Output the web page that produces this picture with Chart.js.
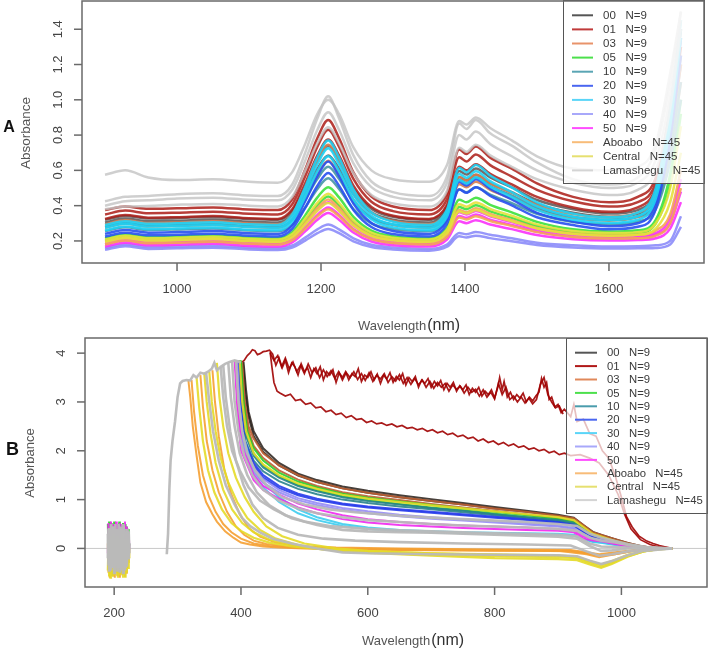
<!DOCTYPE html>
<html><head><meta charset="utf-8">
<script src="https://cdn.jsdelivr.net/npm/chart.js@4.4.0/dist/chart.umd.min.js"></script>
<style>
html,body{margin:0;padding:0;background:#fff;}
#wrap{position:relative;width:708px;height:653px;overflow:hidden;background:#fff;}
canvas{position:absolute;left:0;}
#ca{top:0;width:708px;height:336px;}
#cb{top:336px;width:708px;height:317px;}
</style></head><body>
<div id="wrap"><canvas id="ca" width="708" height="336"></canvas><canvas id="cb" width="708" height="317"></canvas></div>
<script>
// ---------------- DATA : panel A (NIR) ----------------
const wlA = [900,928,960,1000,1050,1100,1140,1160,1178,1195,1210,1225,1245,1270,1300,1350,1375,1392,1402,1415,1435,1465,1500,1550,1600,1640,1665,1685,1700];
const a00 = [
 [0.32,0.342,0.327,0.33,0.336,0.324,0.32,0.37,0.509,0.656,0.74,0.656,0.496,0.383,0.337,0.32,0.395,0.596,0.576,0.61,0.56,0.503,0.432,0.38,0.355,0.375,0.48,0.82,1.25],
 [0.305,0.327,0.312,0.315,0.321,0.309,0.305,0.35,0.476,0.609,0.685,0.609,0.465,0.362,0.32,0.305,0.375,0.562,0.544,0.575,0.528,0.476,0.41,0.36,0.337,0.355,0.45,0.78,1.2]];
const a01 = [
 [0.375,0.395,0.382,0.385,0.39,0.378,0.375,0.436,0.605,0.783,0.885,0.783,0.589,0.452,0.395,0.375,0.468,0.718,0.693,0.735,0.672,0.61,0.526,0.45,0.42,0.45,0.56,0.95,1.4],
 [0.35,0.372,0.357,0.36,0.366,0.354,0.35,0.408,0.566,0.734,0.83,0.734,0.552,0.422,0.369,0.35,0.437,0.674,0.65,0.69,0.63,0.565,0.49,0.425,0.395,0.42,0.53,0.9,1.35],
 [0.325,0.347,0.332,0.335,0.341,0.329,0.325,0.379,0.527,0.685,0.775,0.685,0.514,0.393,0.343,0.325,0.405,0.62,0.6,0.635,0.58,0.52,0.45,0.39,0.365,0.39,0.5,0.85,1.3]];
const a03 = [
 [0.295,0.317,0.302,0.305,0.311,0.299,0.295,0.349,0.497,0.655,0.745,0.655,0.484,0.362,0.313,0.295,0.368,0.562,0.543,0.575,0.526,0.472,0.404,0.352,0.336,0.36,0.46,0.8,1.2],
 [0.275,0.297,0.282,0.285,0.291,0.279,0.275,0.321,0.446,0.579,0.655,0.579,0.435,0.332,0.29,0.275,0.343,0.522,0.505,0.535,0.49,0.44,0.378,0.33,0.315,0.335,0.4,0.7,1.1]];
const a05 = [
 [0.215,0.237,0.222,0.225,0.231,0.219,0.215,0.25,0.345,0.447,0.505,0.447,0.337,0.259,0.227,0.215,0.275,0.434,0.419,0.445,0.405,0.362,0.308,0.266,0.253,0.26,0.32,0.58,1.0],
 [0.202,0.224,0.209,0.212,0.218,0.206,0.202,0.232,0.315,0.402,0.452,0.402,0.307,0.24,0.212,0.202,0.255,0.393,0.38,0.402,0.368,0.331,0.285,0.25,0.238,0.245,0.3,0.52,0.92]];
const a10 = [
 [0.28,0.302,0.287,0.29,0.296,0.284,0.28,0.321,0.433,0.552,0.62,0.552,0.423,0.331,0.294,0.28,0.352,0.547,0.528,0.56,0.511,0.457,0.389,0.337,0.321,0.34,0.42,0.72,1.1],
 [0.255,0.277,0.262,0.265,0.271,0.259,0.255,0.291,0.39,0.495,0.555,0.495,0.381,0.3,0.267,0.255,0.32,0.493,0.476,0.505,0.462,0.414,0.354,0.308,0.294,0.31,0.38,0.65,1.0]];
const a20 = [
 [0.24,0.262,0.247,0.25,0.256,0.244,0.24,0.289,0.425,0.568,0.65,0.568,0.412,0.302,0.256,0.24,0.32,0.535,0.514,0.55,0.496,0.435,0.359,0.31,0.283,0.3,0.42,0.85,1.35],
 [0.225,0.247,0.232,0.235,0.241,0.229,0.225,0.268,0.387,0.513,0.585,0.513,0.376,0.279,0.239,0.225,0.297,0.492,0.473,0.505,0.456,0.402,0.334,0.29,0.266,0.28,0.38,0.78,1.25]];
const a30 = [
 [0.29,0.312,0.297,0.3,0.306,0.294,0.29,0.348,0.506,0.674,0.77,0.674,0.492,0.362,0.309,0.29,0.378,0.614,0.59,0.63,0.571,0.503,0.419,0.355,0.335,0.36,0.5,0.95,1.45],
 [0.275,0.297,0.282,0.285,0.291,0.279,0.275,0.329,0.478,0.635,0.725,0.635,0.464,0.343,0.293,0.275,0.358,0.58,0.558,0.595,0.539,0.476,0.397,0.337,0.319,0.34,0.47,0.9,1.4],
 [0.26,0.282,0.267,0.27,0.276,0.264,0.26,0.31,0.449,0.596,0.68,0.596,0.436,0.323,0.277,0.26,0.338,0.546,0.525,0.56,0.508,0.449,0.376,0.32,0.302,0.32,0.44,0.85,1.35]];
const a40 = [
 [0.16,0.18,0.165,0.168,0.172,0.162,0.158,0.174,0.219,0.266,0.293,0.266,0.215,0.178,0.163,0.155,0.18,0.245,0.238,0.25,0.235,0.215,0.19,0.175,0.168,0.17,0.175,0.2,0.34],
 [0.15,0.17,0.155,0.158,0.162,0.152,0.148,0.162,0.202,0.244,0.268,0.244,0.198,0.166,0.152,0.145,0.167,0.226,0.22,0.23,0.216,0.198,0.177,0.163,0.157,0.158,0.16,0.18,0.28]];
const a50 = [
 [0.19,0.212,0.197,0.2,0.206,0.194,0.19,0.218,0.294,0.374,0.42,0.374,0.287,0.225,0.199,0.19,0.237,0.362,0.35,0.37,0.339,0.307,0.266,0.235,0.225,0.23,0.245,0.33,0.55],
 [0.18,0.202,0.187,0.19,0.196,0.184,0.18,0.205,0.275,0.348,0.39,0.348,0.268,0.212,0.188,0.18,0.225,0.342,0.331,0.35,0.321,0.291,0.253,0.224,0.215,0.22,0.235,0.3,0.48],
 [0.168,0.19,0.175,0.178,0.184,0.172,0.168,0.191,0.254,0.32,0.358,0.32,0.248,0.197,0.176,0.168,0.208,0.311,0.301,0.318,0.293,0.267,0.234,0.21,0.202,0.205,0.215,0.27,0.42]];
const aAboabo = [
 [0.195,0.217,0.202,0.205,0.211,0.199,0.195,0.224,0.303,0.387,0.435,0.387,0.296,0.231,0.205,0.195,0.245,0.376,0.363,0.385,0.353,0.318,0.274,0.242,0.231,0.235,0.26,0.35,0.6],
 [0.18,0.202,0.187,0.19,0.196,0.184,0.18,0.204,0.27,0.34,0.38,0.34,0.264,0.21,0.188,0.18,0.223,0.333,0.322,0.34,0.313,0.285,0.25,0.223,0.214,0.215,0.23,0.3,0.5]];
const aCentral = [
 [0.208,0.23,0.215,0.218,0.224,0.212,0.208,0.239,0.325,0.416,0.468,0.416,0.317,0.247,0.218,0.208,0.263,0.408,0.394,0.418,0.382,0.343,0.294,0.257,0.245,0.25,0.3,0.5,0.85],
 [0.195,0.217,0.202,0.205,0.211,0.199,0.195,0.221,0.294,0.371,0.415,0.371,0.287,0.228,0.204,0.195,0.243,0.367,0.355,0.375,0.344,0.312,0.271,0.24,0.23,0.235,0.27,0.42,0.7]];
const aLamashegu = [
 [0.575,0.60,0.56,0.545,0.55,0.535,0.53,0.59,0.75,0.92,1.0,0.92,0.73,0.60,0.55,0.535,0.63,0.88,0.86,0.9,0.84,0.77,0.68,0.61,0.6,0.62,0.75,1.15,1.5],
 [0.425,0.45,0.455,0.465,0.47,0.458,0.455,0.52,0.70,0.895,1.02,0.895,0.685,0.537,0.477,0.455,0.565,0.865,0.835,0.885,0.81,0.74,0.645,0.55,0.52,0.56,0.72,1.1,1.5],
 [0.40,0.425,0.43,0.44,0.445,0.433,0.43,0.49,0.655,0.83,0.93,0.83,0.64,0.505,0.45,0.43,0.53,0.80,0.775,0.82,0.75,0.68,0.6,0.53,0.5,0.53,0.66,1.02,1.45],
 [0.38,0.395,0.398,0.405,0.41,0.4,0.395,0.45,0.6,0.755,0.845,0.755,0.584,0.46,0.413,0.395,0.485,0.728,0.705,0.745,0.685,0.62,0.55,0.49,0.46,0.49,0.6,0.95,1.4]];

// ---------------- DATA : panel B (UV-Vis) ----------------
const bNoiseX = [190,191,192,193,194,195,196,197,198,199,200,201,202,203,204,205,206,207,208,209,210,211,212,213,214,215,216,217,218,219,220,221,222,223,224];
const bNoise05 = [0.5,-0.2,0.55,-0.3,0.45,-0.1,0.52,-0.25,0.4,-0.2,0.55,-0.3,0.48,-0.15,0.5,-0.25,0.42,-0.2,0.55,-0.3,0.5,-0.1,0.45,-0.25,0.52,-0.2,0.4,-0.3,0.5,-0.15,0.45,-0.2,0.4,-0.1,0.1];
const bNoise50 = [-0.1,0.52,-0.3,0.45,-0.2,0.55,-0.25,0.4,-0.15,0.5,-0.3,0.45,-0.2,0.55,-0.1,0.48,-0.25,0.4,-0.2,0.52,-0.3,0.45,-0.15,0.5,-0.2,0.42,-0.25,0.55,-0.1,0.45,-0.2,0.4,-0.15,0.3,0];
const bNoiseAboabo = [0.1,-0.5,0.2,-0.6,0.15,-0.45,0.1,-0.55,0.2,-0.5,0.05,-0.6,0.15,-0.48,0.1,-0.55,0.2,-0.45,0.1,-0.6,0.15,-0.5,0.05,-0.55,0.1,-0.45,0.2,-0.58,0.1,-0.5,0.15,-0.4,0.05,-0.3,0];
const bNoiseCentral = [-0.45,0.2,-0.55,0.1,-0.6,0.25,-0.5,0.15,-0.58,0.3,-0.45,0.2,-0.55,0.1,-0.5,0.25,-0.6,0.15,-0.48,0.2,-0.55,0.1,-0.5,0.3,-0.58,0.2,-0.45,0.15,-0.6,0.1,-0.5,0.2,-0.4,0.1,-0.2];
const bNoiseLama = [
 [0.3,-0.35,0.42,-0.2,0.38,-0.45,0.25,-0.3,0.45,-0.4,0.3,-0.25,0.5,-0.35,0.2,-0.45,0.4,-0.3,0.35,-0.5,0.45,-0.2,0.3,-0.4,0.5,-0.3,0.25,-0.45,0.4,-0.35,0.3,-0.2,0.35,-0.15,0.1],
 [-0.2,0.4,-0.45,0.3,-0.3,0.5,-0.4,0.35,-0.25,0.45,-0.5,0.3,-0.35,0.4,-0.3,0.25,-0.4,0.5,-0.2,0.35,-0.45,0.4,-0.3,0.3,-0.5,0.45,-0.25,0.35,-0.4,0.3,-0.3,0.4,-0.2,0.3,-0.1]];

const bTailX = [420,435,460,490,520,560,600,650,700,750,800,850,900,925,940,955,970,990,1010,1030,1050,1080];
const bHead00 = [[[404,3.82],[408,3.25],[412,2.8]],[[403,3.8],[407,3.15],[412,2.7]]];
const bTail00 = [[2.4,2.05,1.75,1.53,1.4,1.27,1.18,1.09,1.01,0.93,0.85,0.77,0.69,0.63,0.48,0.34,0.27,0.19,0.11,0.05,0.01,0],
                 [2.3,1.98,1.7,1.49,1.36,1.23,1.14,1.05,0.97,0.9,0.82,0.75,0.67,0.61,0.46,0.32,0.26,0.18,0.1,0.04,0.01,0]];
const bHead03 = [[[402,3.8],[406,3.0],[412,2.5]],[[401,3.82],[405,3.0],[411,2.45]]];
const bTail03 = [[2.25,1.95,1.7,1.5,1.36,1.23,1.14,1.05,0.97,0.9,0.82,0.75,0.67,0.62,0.48,0.33,0.27,0.19,0.11,0.05,0.01,0],
                 [2.1,1.85,1.6,1.41,1.28,1.15,1.07,0.99,0.91,0.84,0.77,0.7,0.62,0.56,0.42,0.29,0.23,0.15,0.08,0.03,0.01,0]];
const bHead05 = [[[400,3.85],[404,3.0],[410,2.4]],[[399,3.85],[403,2.95],[409,2.3]]];
const bTail05 = [[2.05,1.8,1.55,1.37,1.25,1.12,1.04,0.96,0.89,0.82,0.75,0.68,0.61,0.55,0.4,0.27,0.22,0.15,0.08,0.03,0.01,0],
                 [1.95,1.7,1.48,1.3,1.19,1.07,0.99,0.91,0.84,0.78,0.71,0.64,0.57,0.5,0.36,0.24,0.2,0.13,0.07,0.03,0.01,0]];
const bHead10 = [[[398,3.85],[402,3.0],[408,2.3]],[[397,3.84],[401,2.95],[407,2.2]]];
const bTail10 = [[1.9,1.66,1.45,1.28,1.17,1.05,0.97,0.9,0.83,0.77,0.7,0.64,0.58,0.52,0.38,0.26,0.21,0.14,0.08,0.03,0.01,0],
                 [1.8,1.58,1.38,1.22,1.11,1.0,0.93,0.86,0.8,0.74,0.68,0.62,0.55,0.5,0.36,0.25,0.2,0.13,0.07,0.03,0.01,0]];
const bHead20 = [[[396,3.85],[400,2.9],[406,2.2]],[[395,3.85],[399,2.85],[405,2.15]]];
const bTail20 = [[1.75,1.5,1.28,1.12,1.02,0.92,0.86,0.8,0.75,0.7,0.65,0.6,0.54,0.48,0.35,0.23,0.19,0.13,0.07,0.03,0.01,0],
                 [1.7,1.45,1.24,1.09,0.99,0.9,0.84,0.78,0.73,0.68,0.63,0.58,0.52,0.46,0.33,0.22,0.18,0.12,0.06,0.02,0.01,0]];
const bHead30 = [[[392,3.85],[396,2.9],[402,2.2]],[[393,3.85],[397,2.95],[403,2.3]]];
const bTail30 = [[1.5,1.25,0.95,0.72,0.58,0.46,0.4,0.36,0.33,0.31,0.3,0.29,0.28,0.26,0.19,0.13,0.11,0.07,0.04,0.02,0.01,0],
                 [1.6,1.35,1.05,0.8,0.64,0.5,0.43,0.38,0.35,0.33,0.32,0.31,0.3,0.28,0.2,0.14,0.12,0.08,0.04,0.02,0.01,0]];
const bHead40 = [[[394,3.85],[398,2.9],[404,2.1]],[[393,3.84],[397,2.85],[403,2.05]]];
const bTail40 = [[1.65,1.42,1.2,1.03,0.93,0.83,0.76,0.69,0.64,0.6,0.56,0.52,0.47,0.42,0.3,0.2,0.17,0.11,0.06,0.02,0.01,0],
                 [1.55,1.35,1.15,0.99,0.89,0.79,0.72,0.66,0.61,0.57,0.53,0.49,0.45,0.4,0.28,0.19,0.16,0.1,0.05,0.02,0.01,0]];
const bHead50 = [[[390,3.85],[394,2.9],[400,2.0]],[[391,3.85],[395,2.95],[401,2.1]]];
const bTail50 = [[1.4,1.2,1.02,0.84,0.72,0.6,0.53,0.48,0.45,0.42,0.4,0.38,0.36,0.33,0.2,0.16,0.14,0.09,0.05,0.02,0.01,0],
                 [1.5,1.28,1.1,0.92,0.8,0.68,0.6,0.54,0.5,0.47,0.45,0.43,0.4,0.37,0.24,0.18,0.15,0.1,0.05,0.02,0.01,0]];
const bHeadCentralHigh = [[398,3.85],[402,3.0],[408,2.4]];
const bTailCentralHigh = [1.95,1.72,1.5,1.33,1.22,1.1,1.02,0.95,0.88,0.82,0.76,0.7,0.64,0.58,0.44,0.3,0.24,0.15,0.08,0.03,0.01,0];

const b01 = [
 [[400,3.8],[405,3.85],[410,3.95],[414,4.0],[418,4.07],[422,4.05],[426,3.97],[430,3.99],[435,4.03],[440,4.04],[445,4.06],[450,3.98],[455,3.75],[460,3.9],[465,3.7],[470,3.85],[475,3.6],[480,3.8],[485,3.72],[490,3.55],[495,3.78],[500,3.62],[505,3.7],[510,3.5],[515,3.68],[520,3.58],[525,3.72],[530,3.45],[535,3.62],[540,3.55],[545,3.66],[550,3.4],[555,3.6],[560,3.5],[565,3.62],[570,3.45],[575,3.58],[580,3.52],[585,3.68],[590,3.42],[595,3.55],[600,3.5],[605,3.62],[610,3.45],[615,3.57],[620,3.38],[625,3.55],[630,3.47],[635,3.6],[640,3.4],[645,3.52],[650,3.45],[655,3.58],[660,3.35],[665,3.5],[670,3.42],[675,3.52],[680,3.3],[685,3.45],[690,3.38],[695,3.48],[700,3.3],[705,3.42],[710,3.33],[715,3.44],[720,3.25],[725,3.38],[730,3.3],[735,3.4],[740,3.22],[745,3.33],[750,3.25],[755,3.35],[760,3.15],[765,3.28],[770,3.2],[775,3.3],[780,3.12],[785,3.22],[790,3.15],[795,3.25],[800,3.08],[805,3.3],[808,3.5],[812,3.25],[815,3.42],[820,3.1],[825,3.2],[830,3.05],[835,3.15],[840,3.08],[845,3.18],[850,3.0],[855,3.1],[860,3.02],[865,3.12],[870,3.2],[874,3.48],[878,3.3],[882,3.4],[886,3.05],[890,3.1],[895,2.9],[900,2.95],[905,2.78],[910,2.85],[920,2.7],[925,2.95],[930,2.6],[940,2.65],[950,2.35],[960,2.3],[970,2.0],[980,1.85],[990,1.5],[1000,1.05],[1008,0.65],[1017,0.44],[1028,0.25],[1040,0.15],[1050,0.1],[1060,0.06],[1070,0.03],[1080,0]],
 [[446,4.0],[452,3.85],[458,3.95],[464,3.72],[470,3.9],[476,3.68],[482,3.82],[488,3.62],[494,3.75],[500,3.58],[506,3.78],[512,3.6],[518,3.7],[524,3.5],[530,3.66],[536,3.52],[542,3.64],[548,3.48],[554,3.62],[560,3.45],[566,3.6],[572,3.5],[578,3.62],[584,3.46],[590,3.58],[596,3.44],[602,3.6],[608,3.42],[614,3.55],[620,3.47],[626,3.58],[632,3.4],[638,3.52],[644,3.43],[650,3.56],[656,3.38],[662,3.5],[668,3.36],[674,3.48],[680,3.35],[686,3.45],[692,3.3],[698,3.42],[704,3.28],[710,3.4],[716,3.3],[722,3.38],[728,3.22],[734,3.35],[740,3.26],[746,3.32],[752,3.18],[758,3.3],[764,3.2],[770,3.26],[776,3.12],[782,3.25],[788,3.1],[794,3.2],[800,3.06],[806,3.38],[812,3.15],[818,3.3],[824,3.05],[830,3.12],[836,3.0],[842,3.1],[848,2.98],[854,3.08],[860,2.96],[866,3.05],[872,3.35],[878,3.5],[884,3.15],[890,3.0],[896,2.88],[902,2.92],[908,2.75]],
 [[446,4.02],[449,3.7],[452,3.4],[457,3.22],[462,3.18],[470,3.12],[478,3.16],[486,3.03],[494,3.05],[502,2.95],[510,2.98],[518,2.88],[526,2.9],[534,2.8],[542,2.83],[550,2.74],[558,2.77],[566,2.68],[574,2.72],[582,2.64],[590,2.66],[598,2.58],[606,2.61],[614,2.55],[622,2.57],[630,2.52],[638,2.55],[646,2.49],[654,2.52],[662,2.46],[670,2.48],[678,2.43],[686,2.46],[694,2.4],[702,2.43],[710,2.37],[718,2.4],[726,2.33],[734,2.36],[742,2.29],[750,2.32],[758,2.25],[766,2.28],[774,2.2],[782,2.24],[790,2.17],[798,2.2],[806,2.13],[814,2.17],[822,2.1],[830,2.14],[838,2.07],[846,2.1],[854,2.03],[862,2.06],[870,2.0],[878,2.03],[886,1.96],[894,1.99],[902,1.92],[910,1.95],[920,1.9],[935,1.92],[950,1.85],[965,1.75],[980,1.5],[995,1.1],[1005,0.7],[1015,0.4],[1030,0.18],[1045,0.08],[1060,0.03],[1080,0]]];

const bAboabo = [
 [[317,3.45],[320,3.1],[324,2.5],[330,1.9],[336,1.35],[345,0.95],[355,0.7],[362,0.55],[375,0.35],[388,0.22],[400,0.12],[414,0.08],[435,0.04],[460,0.02],[500,0],[560,-0.02],[650,-0.03],[750,-0.04],[850,-0.05],[920,-0.06],[945,-0.1],[965,-0.15],[990,-0.12],[1020,-0.05],[1050,-0.01],[1080,0]],
 [[322,3.45],[326,2.8],[332,2.1],[340,1.5],[350,1.05],[360,0.75],[372,0.5],[385,0.33],[400,0.2],[420,0.1],[445,0.05],[480,0.02],[540,0],[650,-0.02],[800,-0.04],[920,-0.05],[945,-0.1],[965,-0.14],[990,-0.1],[1020,-0.04],[1050,-0.01],[1080,0]],
 [[336,3.55],[340,2.9],[346,2.2],[355,1.6],[365,1.15],[378,0.75],[392,0.45],[405,0.28],[420,0.16],[440,0.09],[470,0.04],[520,0.01],[600,-0.01],[750,-0.03],[900,-0.05],[945,-0.12],[965,-0.18],[990,-0.12],[1020,-0.05],[1050,-0.01],[1080,0]],
 [[355,3.65],[359,3.0],[365,2.3],[374,1.6],[385,1.1],[398,0.7],[412,0.42],[430,0.24],[455,0.12],[490,0.05],[550,0.02],[650,0],[800,-0.02],[920,-0.03],[945,-0.08],[965,-0.12],[990,-0.08],[1020,-0.03],[1080,0]]];
const bCentral = [
 [[330,3.5],[334,2.9],[340,2.2],[348,1.6],[358,1.15],[370,0.8],[385,0.52],[400,0.36],[420,0.22],[445,0.12],[480,0.04],[530,-0.02],[600,-0.06],[700,-0.1],[800,-0.12],[900,-0.14],[930,-0.17],[950,-0.26],[968,-0.33],[985,-0.28],[1010,-0.15],[1035,-0.06],[1060,-0.01],[1080,0]],
 [[342,3.6],[346,3.0],[352,2.35],[360,1.75],[372,1.2],[386,0.8],[402,0.52],[420,0.33],[445,0.18],[480,0.07],[530,-0.02],[600,-0.08],[700,-0.13],[800,-0.16],[900,-0.18],[930,-0.2],[950,-0.3],[968,-0.37],[985,-0.3],[1010,-0.16],[1035,-0.06],[1060,-0.01],[1080,0]],
 [[350,3.62],[354,3.0],[360,2.4],[368,1.85],[380,1.35],[394,0.95],[410,0.62],[430,0.38],[455,0.2],[490,0.07],[540,-0.03],[600,-0.09],[700,-0.15],[800,-0.2],[900,-0.22],[930,-0.24],[950,-0.33],[968,-0.4],[985,-0.32],[1010,-0.17],[1035,-0.06],[1060,-0.01],[1080,0]],
 [[362,3.8],[366,3.1],[372,2.5],[380,1.95],[392,1.45],[406,1.05],[420,0.75],[440,0.45],[465,0.25],[500,0.1],[550,0.0],[600,-0.05],[700,-0.1],[800,-0.13],[900,-0.15],[930,-0.18],[950,-0.27],[968,-0.33],[985,-0.26],[1010,-0.13],[1035,-0.05],[1080,0]]];
const bLamashegu = [
 [[283,-0.12],[285,0.3],[287,1.2],[289,1.8],[292,2.2],[296,2.6],[300,3.1],[304,3.38],[308,3.43],[314,3.45],[320,3.44],[325,3.55],[330,3.5],[336,3.6],[342,3.58],[348,3.62],[354,3.68],[358,3.8],[362,3.65],[368,3.72],[375,3.78],[382,3.82],[390,3.85],[396,3.83],[400,3.8]],
 [[345,3.6],[350,3.0],[356,2.4],[365,1.8],[376,1.3],[390,0.9],[402,0.62],[415,0.45],[430,0.33],[450,0.2],[480,0.1],[520,0.0],[560,-0.08],[600,-0.1],[700,-0.12],[800,-0.13],[900,-0.14],[930,-0.16],[950,-0.25],[968,-0.32],[985,-0.26],[1010,-0.14],[1035,-0.05],[1080,0]],
 [[368,3.72],[372,3.1],[378,2.5],[386,2.0],[398,1.6],[412,1.25],[430,0.98],[452,0.8],[480,0.62],[520,0.48],[560,0.38],[600,0.35],[650,0.33],[700,0.32],[750,0.3],[800,0.28],[850,0.26],[900,0.24],[930,0.2],[950,0.05],[968,-0.05],[985,-0.04],[1010,0],[1040,0.01],[1080,0]],
 [[372,3.75],[376,3.1],[383,2.4],[392,1.8],[404,1.3],[418,0.9],[435,0.62],[458,0.42],[490,0.28],[530,0.2],[580,0.16],[650,0.13],[750,0.1],[850,0.08],[920,0.06],[945,-0.06],[965,-0.15],[985,-0.12],[1010,-0.06],[1040,-0.02],[1080,0]],
 [[380,3.8],[384,3.1],[390,2.5],[398,1.95],[410,1.5],[425,1.15],[445,0.88],[470,0.68],[500,0.55],[540,0.46],[600,0.4],[650,0.37],[700,0.35],[750,0.33],[800,0.31],[850,0.3],[900,0.28],[930,0.25],[950,0.1],[968,0.04],[990,0.03],[1010,0.02],[1040,0.01],[1080,0]],
 [[386,3.83],[390,3.0],[396,2.4],[405,1.9],[418,1.5],[435,1.2],[460,0.98],[490,0.82],[520,0.72],[560,0.64],[600,0.58],[650,0.54],[700,0.5],[750,0.47],[800,0.45],[850,0.43],[900,0.4],[930,0.36],[950,0.22],[968,0.16],[990,0.12],[1010,0.07],[1040,0.02],[1080,0]],
 [[392,3.85],[396,3.0],[402,2.4],[410,1.95],[422,1.6],[440,1.3],[465,1.05],[500,0.9],[540,0.8],[580,0.74],[620,0.7],[660,0.66],[700,0.63],[750,0.6],[800,0.57],[850,0.54],[900,0.5],[930,0.46],[950,0.3],[968,0.22],[990,0.15],[1010,0.09],[1040,0.03],[1080,0]]];

// ---------------- labels / ticks ----------------
const groups = ['00','01','03','05','10','20','30','40','50','Aboabo','Central','Lamashegu'];
const counts = ['N=9','N=9','N=9','N=9','N=9','N=9','N=9','N=9','N=9','N=45','N=45','N=45'];
const xTicksA = [1000,1200,1400,1600];
const yTicksA = [0.2,0.4,0.6,0.8,1.0,1.2,1.4];
const xTicksB = [200,400,600,800,1000];
const yTicksB = [0,1,2,3,4];

// ---------------- styles ----------------
const colA = {'00':'rgba(70,60,60,0.75)','01':'rgba(172,28,22,0.85)','03':'rgba(215,125,80,0.9)','05':'rgba(60,225,60,0.9)','10':'rgba(70,150,165,0.9)','20':'rgba(40,80,240,0.9)','30':'rgba(30,210,245,0.9)','40':'rgba(140,140,250,0.9)','50':'rgba(250,50,250,0.9)','Aboabo':'rgba(245,165,85,0.9)','Central':'rgba(230,225,60,0.9)','Lamashegu':'rgba(195,195,195,0.8)'};
const colB = {'00':'rgba(40,30,25,0.85)','01':'rgba(160,0,0,0.9)','03':'rgba(190,95,50,0.9)','05':'rgba(40,205,40,0.9)','10':'rgba(40,130,140,0.9)','20':'rgba(40,60,235,0.9)','30':'rgba(60,205,240,0.9)','40':'rgba(150,140,245,0.9)','50':'rgba(240,40,240,0.9)','Aboabo':'rgba(245,160,50,0.9)','Central':'rgba(228,218,40,0.9)','Lamashegu':'rgba(185,185,185,0.95)'};
const legColA = ['#555555','#C03A3A','#E8936A','#4CE04C','#5AA5B4','#4A66F0','#5AD5F8','#A8A8FA','#FF4CFF','#F8BC78','#E6E070','#D4D4D4'];
const legColB = ['#555555','#B01818','#E0885A','#4CE04C','#4A9CAC','#4A66F0','#5AD5F8','#A8A8FA','#FF4CFF','#F8BC78','#E6E070','#D4D4D4'];
const FONT = '"Liberation Sans", Arial, sans-serif';

// ---------------- datasets ----------------
// Chart.js paints dataset 0 last, so the list is reversed to keep the R drawing order (Lamashegu on top).
const aSets = {'00':a00,'01':a01,'03':a03,'05':a05,'10':a10,'20':a20,'30':a30,'40':a40,'50':a50,'Aboabo':aAboabo,'Central':aCentral,'Lamashegu':aLamashegu};
const dsA = [];
groups.forEach(g => aSets[g].forEach(vals => dsA.push({
  label:g, data: wlA.map((x,i)=>({x:x,y:vals[i]})), borderColor: colA[g], borderWidth:2.5,
  pointRadius:0, cubicInterpolationMode:'monotone', fill:false })));
dsA.reverse();

function pairs(p){ return p.map(q=>({x:q[0],y:q[1]})); }
function headTail(h,t){ return pairs(h).concat(bTailX.map((x,i)=>({x:x,y:t[i]}))); }
function noise(v){ return bNoiseX.map((x,i)=>({x:x,y:v[i]})); }
const bLines = {
  '00': bHead00.map((h,i)=>headTail(h,bTail00[i])),
  '01': b01.map(pairs),
  '03': bHead03.map((h,i)=>headTail(h,bTail03[i])),
  '05': bHead05.map((h,i)=>headTail(h,bTail05[i])).concat([noise(bNoise05)]),
  '10': bHead10.map((h,i)=>headTail(h,bTail10[i])),
  '20': bHead20.map((h,i)=>headTail(h,bTail20[i])),
  '30': bHead30.map((h,i)=>headTail(h,bTail30[i])),
  '40': bHead40.map((h,i)=>headTail(h,bTail40[i])),
  '50': bHead50.map((h,i)=>headTail(h,bTail50[i])).concat([noise(bNoise50)]),
  'Aboabo': bAboabo.map(pairs).concat([noise(bNoiseAboabo)]),
  'Central': bCentral.map(pairs).concat([headTail(bHeadCentralHigh,bTailCentralHigh), noise(bNoiseCentral)]),
  'Lamashegu': bLamashegu.map(pairs).concat(bNoiseLama.map(noise))
};
const widthB = {'01':1.7,'Lamashegu':2.6,'Aboabo':2.0,'Central':2.2};
const dsB = [];
groups.forEach(g => bLines[g].forEach(d => dsB.push({
  label:g, data:d, borderColor: colB[g], borderWidth: widthB[g] || 2.0,
  pointRadius:0, tension:0, fill:false })));
dsB.reverse();

// ---------------- decoration plugin ----------------
function deco(c){
  return {
    id:'deco',
    beforeDatasetsDraw(chart){
      if(!c.zero) return;
      const {ctx, chartArea:a, scales:{y}} = chart;
      const py = y.getPixelForValue(0);
      ctx.save(); ctx.strokeStyle='#c8c8c8'; ctx.lineWidth=1;
      ctx.beginPath(); ctx.moveTo(a.left,py); ctx.lineTo(a.right,py); ctx.stroke(); ctx.restore();
    },
    afterDatasetsDraw(chart){
      const {ctx, chartArea:a, scales:{x,y}} = chart;
      ctx.save();
      // legend
      const L = c.leg;
      ctx.fillStyle = 'rgba(255,255,255,'+L.alpha+')';
      ctx.fillRect(L.x, L.y, L.w, L.h);
      ctx.strokeStyle = '#555'; ctx.lineWidth = 1;
      ctx.strokeRect(L.x+0.5, L.y+0.5, L.w, L.h);
      ctx.font = L.fs+'px '+FONT; ctx.textBaseline='middle'; ctx.textAlign='left';
      groups.forEach((g,i)=>{
        const yy = L.row0 + i*L.step;
        ctx.strokeStyle = c.legCol[i]; ctx.lineWidth = 2;
        ctx.beginPath(); ctx.moveTo(L.lx0,yy); ctx.lineTo(L.lx1,yy); ctx.stroke();
        ctx.fillStyle = '#3a3a3a';
        ctx.fillText(g+'   '+counts[i], L.tx, yy+0.5);
      });
      // plot box
      ctx.strokeStyle = '#6a6a6a'; ctx.lineWidth = 1.5;
      ctx.strokeRect(a.left, a.top, a.right-a.left, a.bottom-a.top);
      // x ticks
      ctx.fillStyle = '#444'; ctx.font = '13px '+FONT; ctx.textAlign='center'; ctx.textBaseline='middle';
      c.xt.forEach(v=>{
        const px = x.getPixelForValue(v);
        ctx.beginPath(); ctx.moveTo(px,a.bottom); ctx.lineTo(px,a.bottom+8); ctx.stroke();
        ctx.fillText(String(v), px, c.xLabY);
      });
      // y ticks
      c.yt.forEach(v=>{
        const py = y.getPixelForValue(v);
        ctx.beginPath(); ctx.moveTo(a.left-8,py); ctx.lineTo(a.left,py); ctx.stroke();
        ctx.save(); ctx.translate(c.yLabX, py); ctx.rotate(-Math.PI/2);
        ctx.fillText(c.yFmt(v), 0, 0); ctx.restore();
      });
      // y title
      ctx.save(); ctx.translate(c.absX, c.absY); ctx.rotate(-Math.PI/2);
      ctx.font = c.absSize+'px '+FONT; ctx.fillStyle='#555'; ctx.fillText('Absorbance',0,0); ctx.restore();
      // x title
      ctx.textAlign='left'; ctx.textBaseline='alphabetic';
      ctx.font = '13px '+FONT; ctx.fillStyle='#555';
      ctx.fillText('Wavelength', c.wlX, c.wlY);
      const w = ctx.measureText('Wavelength').width;
      ctx.font = '16px '+FONT; ctx.fillStyle='#333';
      ctx.fillText('(nm)', c.wlX+w+1, c.wlY);
      // panel letter
      ctx.font = 'bold '+c.letSize+'px '+FONT; ctx.fillStyle='#111'; ctx.textAlign='center'; ctx.textBaseline='middle';
      ctx.fillText(c.letter, c.letX, c.letY);
      ctx.restore();
    }
  };
}

function makeChart(id, datasets, pad, xr, yr, d){
  return new Chart(document.getElementById(id), {
    type:'line',
    data:{datasets: datasets},
    options:{
      responsive:false, animation:false, events:[],
      layout:{padding:pad},
      plugins:{legend:{display:false}, tooltip:{enabled:false}},
      scales:{
        x:{type:'linear', min:xr[0], max:xr[1], display:false},
        y:{type:'linear', min:yr[0], max:yr[1], display:false}
      }
    },
    plugins:[deco(d)]
  });
}

makeChart('ca', dsA, {left:82,right:4,top:1,bottom:73}, [868,1732], [0.075,1.56], {
  xt:xTicksA, yt:yTicksA, yFmt:v=>v.toFixed(1), xLabY:289, yLabX:58,
  absX:26.5, absY:133, absSize:13.5, wlX:358, wlY:330,
  letter:'A', letX:9, letY:128, letSize:16, legCol:legColA, zero:false,
  leg:{x:563,y:0,w:141,h:183,alpha:0.82,row0:15.3,step:14.1,lx0:572,lx1:593,tx:603,fs:11.5}
});
makeChart('cb', dsB, {left:85,right:1,top:2,bottom:66}, [154,1135], [-0.79,4.31], {
  xt:xTicksB, yt:yTicksB, yFmt:v=>String(v), xLabY:277, yLabX:61,
  absX:30, absY:127, absSize:13, wlX:362, wlY:309,
  letter:'B', letX:12.5, letY:114, letSize:18, legCol:legColB, zero:true,
  leg:{x:566,y:2,w:141,h:175,alpha:0.72,row0:16.7,step:13.4,lx0:575,lx1:597,tx:607,fs:11.3}
});
</script>
</body></html>
